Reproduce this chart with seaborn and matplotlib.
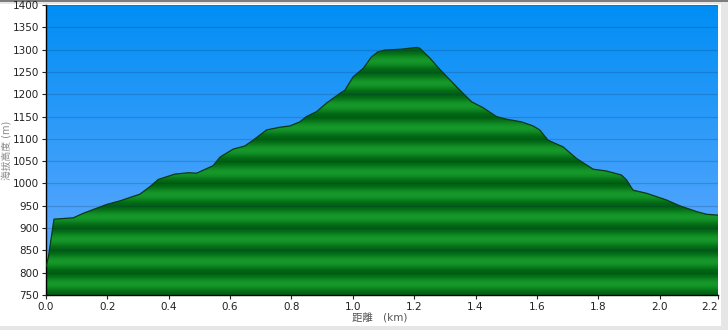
import numpy as np
import matplotlib
matplotlib.use("Agg")
import matplotlib.pyplot as plt
import seaborn as sns
from matplotlib.patches import Rectangle

# ---- data ----
dist_km = [0.000, 0.008, 0.026, 0.089, 0.121, 0.198, 0.241, 0.306, 0.339, 0.366,
           0.420, 0.464, 0.491, 0.545, 0.567, 0.610, 0.648, 0.675, 0.719, 0.762,
           0.795, 0.827, 0.849, 0.882, 0.914, 0.958, 0.974, 1.001, 1.034, 1.061,
           1.082, 1.104, 1.159, 1.208, 1.218, 1.251, 1.283, 1.322, 1.349, 1.387,
           1.424, 1.468, 1.501, 1.550, 1.587, 1.609, 1.636, 1.685, 1.729, 1.783,
           1.826, 1.875, 1.892, 1.913, 1.957, 2.022, 2.065, 2.120, 2.152, 2.190]
elev_m = [813, 836, 920, 923, 933, 953, 961, 976, 993, 1009,
          1021, 1024, 1023, 1040, 1059, 1077, 1084, 1097, 1120, 1126,
          1129, 1138, 1150, 1161, 1180, 1202, 1209, 1239, 1258, 1284,
          1295, 1299, 1301, 1305, 1303, 1281, 1256, 1228, 1209, 1183,
          1170, 1150, 1144, 1138, 1129, 1120, 1097, 1082, 1056, 1032,
          1028, 1019, 1008, 985, 978, 963, 950, 937, 931, 929]
y_ticks = list(range(750, 1401, 50))
x_ticks = [0.0, 0.2, 0.4, 0.6, 0.8, 1.0, 1.2, 1.4, 1.6, 1.8, 2.0, 2.19]
x_label = "距離\u3000(km)"
y_label = "海拔高度 (m)"

sns.set_theme(style="white")
plt.rcParams['font.family'] = ['DejaVu Sans', 'Noto Sans CJK TC']

W, H = 728, 330
fig = plt.figure(figsize=(W / 100, H / 100), dpi=100)
fig.patch.set_facecolor('#e6e6e6')
fig.patches.append(Rectangle((0, 4 / H), 721 / W, 322 / H, transform=fig.transFigure,
                             facecolor='white', edgecolor='none', zorder=-1))
fig.patches.append(Rectangle((0, (H - 1.5) / H), 1, 1.5 / H, transform=fig.transFigure,
                             facecolor='#7d7d7d', edgecolor='none', zorder=-1))

L, R, T, B = 46, 718, 5, 295
ax = fig.add_axes([L / W, (H - B) / H, (R - L) / W, (B - T) / H])

ymin, ymax = y_ticks[0], y_ticks[-1]
xmax = x_ticks[-1]
ext = [0, xmax, ymin, ymax]

# sky gradient
n = 400
t = np.linspace(0, 1, n)[:, None]  # 0 at top
top = np.array([0, 142, 244]) / 255
bot = np.array([108, 172, 255]) / 255
sky = (top * (1 - t) + bot * t)[:, None, :].repeat(2, axis=1)
ax.imshow(sky, extent=ext, aspect='auto', zorder=0, interpolation='bilinear')

# green banded fill
ev = np.linspace(ymax, ymin, 1300)
phase = ((ev - ymin) % 50) / 50
b = 0.5 - 0.5 * np.cos(2 * np.pi * phase)
dark = np.array([0, 98, 18]) / 255
light = np.array([22, 152, 42]) / 255
green = (dark[None, :] * (1 - b[:, None]) + light[None, :] * b[:, None])[:, None, :].repeat(2, axis=1)
im = ax.imshow(green, extent=ext, aspect='auto', zorder=1, interpolation='bilinear')
poly = ax.fill_between(dist_km, elev_m, ymin, facecolor='none', edgecolor='none')
im.set_clip_path(poly.get_paths()[0], transform=ax.transData)

sns.lineplot(x=dist_km, y=elev_m, ax=ax, color='#0b3a14', linewidth=0.9,
             sort=False, estimator=None, zorder=3)

ax.set_xlim(0, xmax)
ax.set_ylim(ymin, ymax)
ax.set_axisbelow(False)
ax.yaxis.grid(True, color='#0a2a5a', alpha=0.2, linewidth=0.9)
ax.xaxis.grid(False)

ax.set_yticks(y_ticks)
ax.set_yticklabels([str(v) for v in y_ticks])
ax.set_xticks(x_ticks)
ax.set_xticklabels([f"{v:.1f}" for v in x_ticks])
ax.get_xticklabels()[-1].set_horizontalalignment('right')
ax.tick_params(direction='out', length=3, width=0.8, labelsize=7.5,
               colors='#222222', pad=2, left=True, bottom=True)

for s in ['top', 'right']:
    ax.spines[s].set_visible(False)
for s in ['left', 'bottom']:
    ax.spines[s].set_color('black')
    ax.spines[s].set_linewidth(1.0)

ax.set_xlabel(x_label, fontsize=7.5, color='#555555')
ax.xaxis.set_label_coords(0.497, -0.062)
ax.set_ylabel(y_label, fontsize=7, color='#8a8a8a')
ax.yaxis.set_label_coords(-34 / (R - L), 0.5)

fig.savefig("out.png", dpi=100)
